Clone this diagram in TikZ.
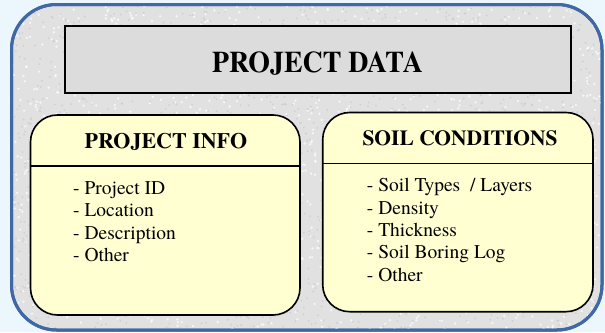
\documentclass[tikz,border=0pt]{standalone}
\usepackage{fontspec}
\setmainfont{TeX Gyre Termes}
\newfontfamily\headfont[FakeStretch=0.93]{TeX Gyre Termes}
\definecolor{pagebg}{HTML}{EBF6FD}
\definecolor{frameblue}{HTML}{3F68A4}
\definecolor{granite}{HTML}{E1E1E1}
\definecolor{speckdark}{HTML}{C4C4C4}
\definecolor{headgray}{HTML}{DCDCDC}
\definecolor{cardyellow}{HTML}{FFFFD2}
\tikzset{
  panel/.style={draw=frameblue, line width=3pt, rounded corners=45pt, fill=granite},
  headbox/.style={draw=black, line width=1.8pt, fill=headgray, rectangle, inner sep=0pt},
  card/.style={draw=black, line width=1.6pt, fill=cardyellow, rectangle, rounded corners=27pt, inner sep=0pt},
  divider/.style={draw=black, line width=1.4pt},
  headtext/.style={font=\headfont\bfseries\fontsize{30}{32}\selectfont, inner sep=0pt, anchor=base},
  cardtitle/.style={font=\bfseries\fontsize{#1}{24}\selectfont, inner sep=0pt, anchor=base},
  item/.style={font=\fontsize{19.5}{22}\selectfont, inner sep=0pt, anchor=base west}
}
\begin{document}
\begin{tikzpicture}[x=1pt,y=-1pt]
  \useasboundingbox (0,0) rectangle (605,332);
  \fill[pagebg] (0,0) rectangle (605,332);

  % granite panel with speckled texture
  \path[panel] (11.5,4.5) rectangle (602,330);
  \begin{scope}
    \clip[rounded corners=45pt] (11.5,4.5) rectangle (602,330);
    \pgfmathsetseed{11}
    \foreach \k in {1,...,1800}{
      \pgfmathsetmacro\px{rnd*592+11}
      \pgfmathsetmacro\py{rnd*327+4}
      \fill[white, opacity=0.7] (\px,\py) circle (1.3pt);
    }
    \foreach \k in {1,...,1800}{
      \pgfmathsetmacro\px{rnd*592+11}
      \pgfmathsetmacro\py{rnd*327+4}
      \fill[speckdark, opacity=0.6] (\px,\py) circle (1pt);
    }
  \end{scope}
  \draw[frameblue, line width=3pt, rounded corners=45pt] (11.5,4.5) rectangle (602,330);

  % header bar
  \node[headbox, minimum width=505.7pt, minimum height=67pt] (data) at (317.85,59.5) {};
  \node[headtext] (datatitle) at (317.5,72.7) {PROJECT DATA};

  % project info card
  \node[card, minimum width=269.5pt, minimum height=200pt] (info) at (165.25,215) {};
  \draw[divider] (info.west |- 0,166) coordinate (infoL) -- (info.east |- 0,166) coordinate (infoR);
  \node[cardtitle=22] (infotitle) at (166,148.3) {PROJECT INFO};
  \node[item] (i1) at (73,194.3) {- Project ID};
  \node[item] (i2) at (73,216.6) {- Location};
  \node[item] (i3) at (73,239.0) {- Description};
  \node[item] (i4) at (73,261.3) {- Other};

  % soil conditions card
  \node[card, minimum width=270.3pt, minimum height=199.2pt] (soil) at (457.85,212.1) {};
  \draw[divider] (soil.west |- 0,163.5) coordinate (soilL) -- (soil.east |- 0,163.5) coordinate (soilR);
  \node[cardtitle=21.5] (soiltitle) at (460,145) {SOIL CONDITIONS};
  \node[item] (s1) at (366.7,191.7) {- Soil Types~ / Layers};
  \node[item] (s2) at (366.7,214.1) {- Density};
  \node[item] (s3) at (366.7,236.5) {- Thickness};
  \node[item] (s4) at (366.7,258.9) {- Soil Boring Log};
  \node[item] (s5) at (366.7,281.3) {- Other};
\end{tikzpicture}
\end{document}
